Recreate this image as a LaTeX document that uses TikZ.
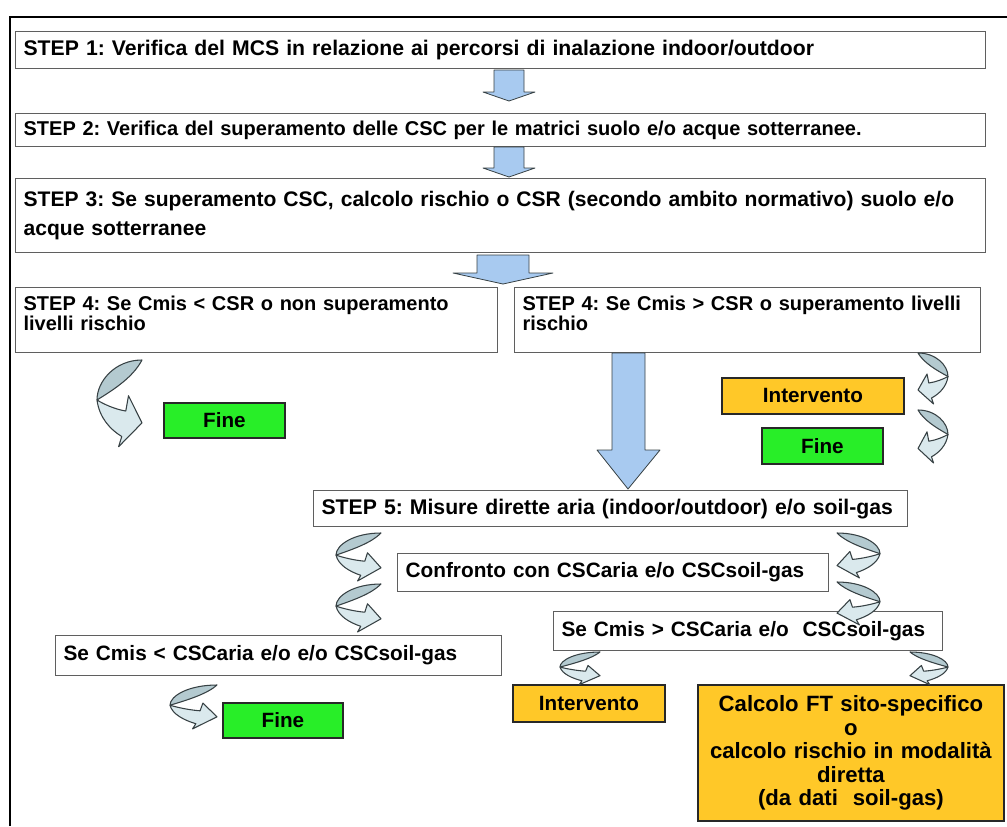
\documentclass[tikz,border=0pt]{standalone}
\usepackage{fontspec}
\setmainfont{Liberation Sans}
\frenchspacing
\definecolor{boxline}{RGB}{95,95,95}
\definecolor{finegreen}{RGB}{40,238,40}
\definecolor{intorange}{RGB}{255,200,40}
\definecolor{arrowblue}{RGB}{168,202,240}
\definecolor{cfill}{RGB}{218,233,237}
\definecolor{cdark}{RGB}{180,202,208}
\definecolor{cline}{RGB}{55,65,68}
\definecolor{darkline}{RGB}{40,40,40}
\tikzset{
  box/.style={draw=boxline, line width=0.9pt, fill=white, inner xsep=6pt, inner ysep=0pt,
    align=left, font=\bfseries\fontsize{15.6}{15}\selectfont},
  bigbox/.style={box, font=\bfseries\fontsize{#1}{22}\selectfont},
  smallbox/.style={box, font=\bfseries\fontsize{15}{15}\selectfont},
  colbox/.style={draw=darkline, line width=1.4pt, inner xsep=6pt, inner ysep=0pt,
    align=center, font=\bfseries\fontsize{15.5}{17}\selectfont},
  finebox/.style={colbox, fill=finegreen},
  intbox/.style={colbox, fill=intorange},
  blockarrow/.style={fill=arrowblue, draw=cline, line width=0.6pt, line join=round},
  carrow/.pic={
    \filldraw[fill=cdark, draw=cline, line width=0.8pt, line join=round]
      (1,0) .. controls (0.4,0.0) and (0.0,0.25) .. (0,0.47)
      .. controls (0.4,0.34) and (0.8,0.2) .. (1,0) -- cycle;
    \filldraw[fill=cfill, draw=cline, line width=0.8pt, line join=round]
      (0,0.47) .. controls (0.05,0.68) and (0.3,0.82) .. (0.55,0.9)
      -- (0.48,1.02) -- (1,0.74) -- (0.7,0.42) -- (0.64,0.6)
      .. controls (0.4,0.58) and (0.15,0.52) .. (0,0.47) -- cycle;
  }
}
\newcommand\boxnode[7]{%
  \pgfmathsetmacro\bxw{(#5-#3)*0.75}%
  \pgfmathsetmacro\bxh{(#6-#4)*0.75}%
  \pgfmathsetmacro\bxt{(#5-#3)*0.75-12}%
  \node[#2, anchor=north west, minimum width=\bxw pt, minimum height=\bxh pt, text width=\bxt pt] (#1) at (#3,#4) {#7};}
\begin{document}
\begin{tikzpicture}[x=0.75pt,y=-0.75pt]
\useasboundingbox (0,0) rectangle (1007,826);
% outer frame
\draw[line width=2.2pt] (10,826) -- (10,17) -- (1007,17);

% main steps
\boxnode{s1}{bigbox=15.9}{15}{31}{985}{68}{STEP 1: Verifica del MCS in relazione ai percorsi di inalazione indoor/outdoor}
\boxnode{s2}{bigbox=15}{15}{113}{985}{146}{STEP 2: Verifica del superamento delle CSC per le matrici suolo e/o acque sotterranee.}
\boxnode{s3}{bigbox=15.8}{15}{178}{985}{252}{STEP 3: Se superamento CSC, calcolo rischio o CSR (secondo ambito normativo) suolo e/o\\acque sotterranee}
\boxnode{s4l}{smallbox}{15}{287}{497}{352}{STEP 4: Se Cmis < CSR o non superamento\\livelli rischio\\[-4pt]\mbox{}}
\boxnode{s4r}{smallbox}{514}{287}{980}{352}{STEP 4: Se Cmis > CSR o superamento livelli\\rischio\\[-4pt]\mbox{}}

\boxnode{fine1}{finebox}{163}{402}{284}{437}{Fine}
\boxnode{int1}{intbox}{721}{377}{903}{413}{Intervento}
\boxnode{fine2}{finebox}{761}{427}{882}{463}{Fine}

\boxnode{s5}{bigbox=15.9}{313}{490}{907}{526}{\mbox{STEP 5: Misure dirette aria (indoor/outdoor) e/o soil-gas}}
\boxnode{conf}{box}{397}{553}{828}{591}{Confronto con CSCaria e/o CSCsoil-gas}
\boxnode{gt}{box}{553}{611}{942}{650}{Se Cmis > CSCaria e/o \ CSCsoil-gas}
\boxnode{lt}{box}{55}{635}{501}{675}{Se Cmis < CSCaria e/o e/o CSCsoil-gas}
\boxnode{fine3}{finebox}{222}{702}{342}{737}{Fine}
\boxnode{int2}{intbox}{512}{684}{664}{721}{Intervento}
\boxnode{calc}{intbox, font=\bfseries\fontsize{16.6}{17.6}\selectfont}{697}{684}{1003}{820}{Calcolo FT sito-specifico\\o\\calcolo rischio in modalità\\diretta\\(da dati \ soil-gas)}

% block arrows
\draw[blockarrow] (494,70) -- (524,70) -- (524,92) -- (535,92) -- (509,101) -- (483,92) -- (494,92) -- cycle;
\draw[blockarrow] (494,147) -- (524,147) -- (524,168) -- (535,168) -- (509,177) -- (483,168) -- (494,168) -- cycle;
\draw[blockarrow] (477,255) -- (529,255) -- (529,273) -- (553,273) -- (503,284) -- (453,273) -- (477,273) -- cycle;
\draw[blockarrow] (612,353) -- (645,353) -- (645,450) -- (660,450) -- (628,489) -- (597,450) -- (612,450) -- cycle;

% curved arrows
\pic[xscale=45, yscale=85] at (97,360) {carrow};
\pic[xscale=-30, yscale=50] at (948,353) {carrow};
\pic[xscale=-30, yscale=52] at (948,410) {carrow};
\pic[xscale=45, yscale=47] at (336,533) {carrow};
\pic[xscale=45, yscale=47] at (336,584) {carrow};
\pic[xscale=-43, yscale=44] at (880,533) {carrow};
\pic[xscale=-43, yscale=42] at (880,582) {carrow};
\pic[xscale=47, yscale=43] at (170,685) {carrow};
\pic[xscale=40, yscale=32] at (560,652) {carrow};
\pic[xscale=-38, yscale=32] at (948,652) {carrow};
\end{tikzpicture}
\end{document}
